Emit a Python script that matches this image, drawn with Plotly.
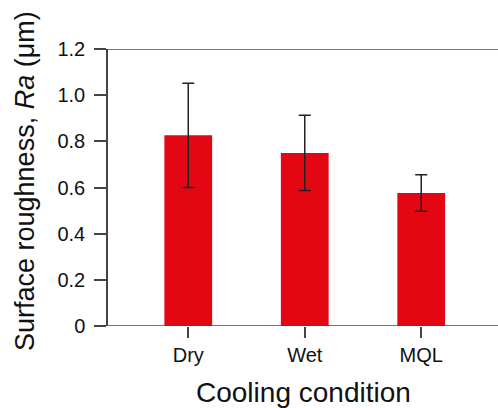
import plotly.graph_objects as go

categories = ["Dry", "Wet", "MQL"]
roughness = [0.826, 0.750, 0.576]
error = [0.226, 0.163, 0.079]
ytick_vals = [0, 0.2, 0.4, 0.6, 0.8, 1.0, 1.2]
ytick_text = ["0", "0.2", "0.4", "0.6", "0.8", "1.0", "1.2"]

axis_color = "#444444"
font_family = "Liberation Sans, Arial, sans-serif"

L, T, W, H = 108, 49, 390, 277

fig = go.Figure()
fig.add_trace(go.Bar(
    x=[0, 1, 2],
    y=roughness,
    width=0.41,
    marker=dict(color="#E30613", line=dict(width=0)),
    error_y=dict(type="data", array=error, visible=True, color="#222222",
                 thickness=1.5, width=6),
))

fig.update_layout(
    width=498, height=408,
    margin=dict(l=L, r=0, t=T, b=408 - T - H, autoexpand=False),
    plot_bgcolor="white", paper_bgcolor="white",
    showlegend=False,
    font=dict(family=font_family, color="#111111"),
    xaxis=dict(
        range=[-0.689, 2.659],
        tickvals=[0, 1, 2], ticktext=categories,
        ticks="outside", ticklen=11, tickwidth=1.5, tickcolor=axis_color,
        tickfont=dict(size=20, color="#111111"),
        showline=False, showgrid=False, zeroline=False,
        automargin=False,
    ),
    yaxis=dict(
        range=[0, 1.2],
        tickvals=ytick_vals, ticktext=ytick_text,
        ticks="outside", ticklen=12, tickwidth=1.5, tickcolor=axis_color,
        tickfont=dict(size=20, color="#111111"),
        showline=True, linecolor=axis_color, linewidth=1.5,
        showgrid=False, zeroline=False,
        ticklabelstandoff=5,
        automargin=False,
    ),
)

fig.add_annotation(text="Cooling condition", xref="paper", yref="paper",
                   x=(303 - L) / W, y=(T + H - 392) / H, showarrow=False,
                   xanchor="center", yanchor="middle",
                   font=dict(size=28, color="#111111"))
fig.add_annotation(text="Surface roughness, <i>Ra</i> (μm)", xref="paper", yref="paper",
                   x=(25 - L) / W, y=(T + H - 181) / H, showarrow=False,
                   textangle=-90, xanchor="center", yanchor="middle",
                   font=dict(size=27, color="#111111"))

for yv in [0, 1.2]:
    fig.add_shape(type="line", xref="paper", yref="y",
                  x0=-12 / W, x1=1, y0=yv, y1=yv,
                  line=dict(color=axis_color, width=1.5), layer="above")

fig.write_html("out.html")
